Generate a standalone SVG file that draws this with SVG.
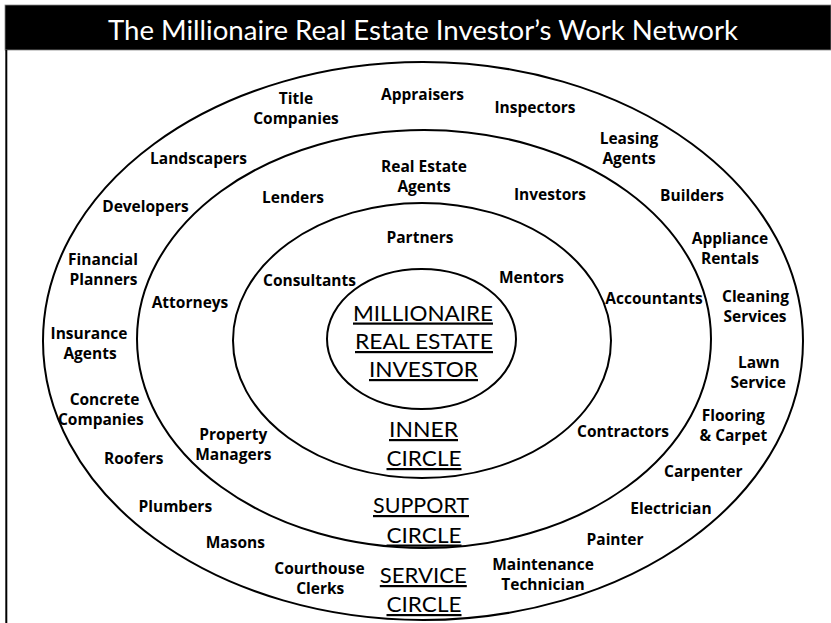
<svg xmlns="http://www.w3.org/2000/svg" width="831" height="623" viewBox="0 0 831 623">
<style>
.ring{fill:none;stroke:#000;stroke-width:2}
.lbl{font-family:"Open Sans",Lato,"Liberation Sans",sans-serif;font-weight:bold;font-size:15.5px;fill:#000;text-anchor:middle}
.big{font-family:Lato,"Open Sans","Liberation Sans",sans-serif;font-size:22px;fill:#000;text-anchor:middle;text-decoration:underline}
.title{font-family:Lato,"Open Sans","Liberation Sans",sans-serif;font-size:27px;fill:#fff}
</style>
<rect x="0" y="0" width="831" height="623" fill="#fff"/>
<g id="frame">
<rect x="5" y="5" width="826" height="45" fill="#000" stroke="#888" stroke-width="0.8"/>
<line x1="6.3" y1="50" x2="6.3" y2="623" stroke="#000" stroke-width="2"/>
<text class="title" x="108" y="39.5" textLength="630" lengthAdjust="spacingAndGlyphs">The Millionaire Real Estate Investor’s Work Network</text>
</g>
<g id="service-circle"><ellipse class="ring" cx="423" cy="341" rx="380" ry="279"/></g>
<g id="support-circle"><ellipse class="ring" cx="424" cy="339" rx="287" ry="209"/></g>
<g id="inner-circle"><ellipse class="ring" cx="422" cy="340.5" rx="189" ry="137.5"/></g>
<g id="investor"><ellipse class="ring" cx="421.5" cy="339" rx="94.5" ry="70"/>
<text class="big" x="423" y="320.5" textLength="140" lengthAdjust="spacingAndGlyphs">MILLIONAIRE</text>
<text class="big" x="424" y="349" textLength="138" lengthAdjust="spacingAndGlyphs">REAL ESTATE</text>
<text class="big" x="423.5" y="377" textLength="109" lengthAdjust="spacingAndGlyphs">INVESTOR</text>
</g>
<g id="inner-label">
<text class="big" x="423.5" y="437" textLength="69" lengthAdjust="spacingAndGlyphs">INNER</text>
<text class="big" x="424" y="466" textLength="75" lengthAdjust="spacingAndGlyphs">CIRCLE</text>
</g>
<g id="support-label">
<text class="big" x="421" y="513" textLength="96" lengthAdjust="spacingAndGlyphs">SUPPORT</text>
<text class="big" x="424" y="542.5" textLength="75" lengthAdjust="spacingAndGlyphs">CIRCLE</text>
</g>
<g id="service-label">
<text class="big" x="423.3" y="583" textLength="87" lengthAdjust="spacingAndGlyphs">SERVICE</text>
<text class="big" x="424" y="612" textLength="75" lengthAdjust="spacingAndGlyphs">CIRCLE</text>
</g>
<g id="connectors"></g>
<g id="title-companies"><text class="lbl" x="296" y="104">Title</text><text class="lbl" x="296" y="124">Companies</text></g>
<g id="appraisers"><text class="lbl" x="422.5" y="99.5">Appraisers</text></g>
<g id="inspectors"><text class="lbl" x="535" y="113">Inspectors</text></g>
<g id="leasing-agents"><text class="lbl" x="629" y="143.5">Leasing</text><text class="lbl" x="629" y="163.5">Agents</text></g>
<g id="landscapers"><text class="lbl" x="198.5" y="164">Landscapers</text></g>
<g id="real-estate-agents"><text class="lbl" x="424" y="171.5">Real Estate</text><text class="lbl" x="424" y="191.5">Agents</text></g>
<g id="developers"><text class="lbl" x="145.5" y="212">Developers</text></g>
<g id="lenders"><text class="lbl" x="293" y="203">Lenders</text></g>
<g id="investors"><text class="lbl" x="550" y="200">Investors</text></g>
<g id="builders"><text class="lbl" x="692" y="201">Builders</text></g>
<g id="partners"><text class="lbl" x="420" y="243">Partners</text></g>
<g id="financial-planners"><text class="lbl" x="103" y="265">Financial</text><text class="lbl" x="103.5" y="285">Planners</text></g>
<g id="appliance-rentals"><text class="lbl" x="730" y="244">Appliance</text><text class="lbl" x="730" y="264">Rentals</text></g>
<g id="consultants"><text class="lbl" x="309.5" y="285.5">Consultants</text></g>
<g id="mentors"><text class="lbl" x="531.5" y="283">Mentors</text></g>
<g id="attorneys"><text class="lbl" x="190" y="308">Attorneys</text></g>
<g id="accountants"><text class="lbl" x="654" y="304">Accountants</text></g>
<g id="cleaning-services"><text class="lbl" x="755.5" y="301.5">Cleaning</text><text class="lbl" x="755" y="321.5">Services</text></g>
<g id="insurance-agents"><text class="lbl" x="89" y="338.5">Insurance</text><text class="lbl" x="90" y="358.5">Agents</text></g>
<g id="lawn-service"><text class="lbl" x="758.8" y="367.5">Lawn</text><text class="lbl" x="758.3" y="387.5">Service</text></g>
<g id="concrete-companies"><text class="lbl" x="104.5" y="405">Concrete</text><text class="lbl" x="100.8" y="425">Companies</text></g>
<g id="flooring-carpet"><text class="lbl" x="733.3" y="421">Flooring</text><text class="lbl" x="733.3" y="441">&amp; Carpet</text></g>
<g id="property-managers"><text class="lbl" x="233.3" y="439.5">Property</text><text class="lbl" x="233.3" y="459.5">Managers</text></g>
<g id="contractors"><text class="lbl" x="623" y="437">Contractors</text></g>
<g id="roofers"><text class="lbl" x="133.7" y="464">Roofers</text></g>
<g id="carpenter"><text class="lbl" x="703.3" y="477">Carpenter</text></g>
<g id="plumbers"><text class="lbl" x="175.3" y="511.5">Plumbers</text></g>
<g id="electrician"><text class="lbl" x="671" y="514">Electrician</text></g>
<g id="masons"><text class="lbl" x="235.3" y="548">Masons</text></g>
<g id="painter"><text class="lbl" x="615" y="545">Painter</text></g>
<g id="courthouse-clerks"><text class="lbl" x="319.5" y="573.5">Courthouse</text><text class="lbl" x="320.2" y="593.5">Clerks</text></g>
<g id="maintenance-technician"><text class="lbl" x="543" y="570">Maintenance</text><text class="lbl" x="543" y="590">Technician</text></g>
</svg>
